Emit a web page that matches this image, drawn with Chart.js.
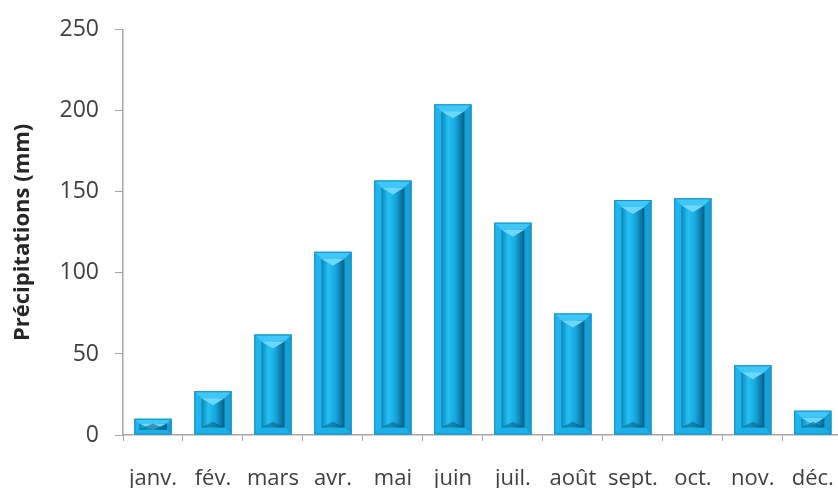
<!DOCTYPE html>
<html>
<head>
<meta charset="utf-8">
<script src="https://cdn.jsdelivr.net/npm/chart.js@4"></script>
<style>
  html, body { margin: 0; padding: 0; background: #fff; overflow: hidden; }
  #wrap { width: 859px; height: 488px; }
</style>
</head>
<body>
<div id="wrap"><canvas id="bar" width="859" height="488"></canvas></div>
<script>
const months = ['janv.', 'fév.', 'mars', 'avr.', 'mai', 'juin', 'juil.', 'août', 'sept.', 'oct.', 'nov.', 'déc.']
const precipitations = [10, 27, 62, 113, 157, 204, 131, 75, 145, 146, 43, 15]
const yTicks = [0, 50, 100, 150, 200, 250]

// bevel look drawn on top of each bar, from the bar elements themselves
const bevel = {
  id: 'bevel',
  afterDatasetsDraw(chart) {
    const ctx = chart.ctx
    chart.getDatasetMeta(0).data.forEach((bar) => {
      const { x, y, base, width } = bar.getProps(['x', 'y', 'base', 'width'], true)
      const l = x - width / 2, r = x + width / 2, t = y, b = base
      const h = b - t
      const d = Math.min(7, width * 0.19, h * 0.3)
      const il = l + d, ir = r - d, it = t + d, ib = b - d
      ctx.save()
      // top
      ctx.fillStyle = '#3fc8f7'
      ctx.beginPath(); ctx.moveTo(l, t); ctx.lineTo(r, t); ctx.lineTo(ir, it); ctx.lineTo(il, it); ctx.fill()
      // left
      ctx.fillStyle = '#1fb4ec'
      ctx.beginPath(); ctx.moveTo(l, t); ctx.lineTo(il, it); ctx.lineTo(il, ib); ctx.lineTo(l, b); ctx.fill()
      // right
      ctx.fillStyle = '#15a0d6'
      ctx.beginPath(); ctx.moveTo(r, t); ctx.lineTo(ir, it); ctx.lineTo(ir, ib); ctx.lineTo(r, b); ctx.fill()
      // bottom
      ctx.fillStyle = '#1cb0e8'
      ctx.beginPath(); ctx.moveTo(l, b); ctx.lineTo(il, ib); ctx.lineTo(ir, ib); ctx.lineTo(r, b); ctx.fill()
      // inner face
      if (ib > it) {
        const g = ctx.createLinearGradient(il, 0, ir, 0)
        g.addColorStop(0, '#0b86b8')
        g.addColorStop(0.3, '#25c0f3')
        g.addColorStop(0.6, '#17a8e0')
        g.addColorStop(1, '#065e84')
        ctx.fillStyle = g
        ctx.fillRect(il, it, ir - il, ib - it)
        // small light notch at the top of the inner face
        const tw = (ir - il) / 2
        ctx.fillStyle = '#6bd8fa'
        ctx.beginPath(); ctx.moveTo(il, it); ctx.lineTo(ir, it); ctx.lineTo(x, it + Math.min(tw * 0.6, ib - it)); ctx.fill()
        // darker notch at the bottom
        ctx.fillStyle = 'rgba(6, 80, 115, 0.5)'
        ctx.beginPath(); ctx.moveTo(il, ib); ctx.lineTo(ir, ib); ctx.lineTo(x, ib - Math.min(tw * 0.5, ib - it)); ctx.fill()
      }
      ctx.strokeStyle = '#1490c4'
      ctx.lineWidth = 1
      ctx.strokeRect(l + 0.5, t + 0.5, width - 1, h - 1)
      ctx.restore()
    })
  }
}

const axisColor = '#a6a6a6'
const barCtx = document.getElementById('bar')
const chart = new Chart(barCtx, {
  type: 'bar',
  data: {
    labels: months,
    datasets: [
      {
        label: 'Précipitations (mm)',
        data: precipitations,
        backgroundColor: '#1db6ee',
        borderWidth: 0,
        barPercentage: 0.62,
        categoryPercentage: 1,
      },
    ],
  },
  options: {
    responsive: false,
    animation: false,
    layout: { padding: { top: 22, right: 3, bottom: 0, left: 0 } },
    plugins: {
      legend: { display: false },
      tooltip: { enabled: false },
    },
    scales: {
      x: {
        grid: { display: true, drawOnChartArea: false, drawTicks: true, tickLength: 6, color: axisColor, offset: true },
        border: { color: axisColor, width: 1.5 },
        ticks: { color: '#404040', font: { family: 'Open Sans', size: 22 }, padding: 25, maxRotation: 0 },
        afterFit: (scale) => { scale.height = 53 },
      },
      y: {
        min: 0,
        max: 250,
        afterBuildTicks: (scale) => { scale.ticks = yTicks.map((v) => ({ value: v })) },
        grid: { display: true, drawOnChartArea: false, drawTicks: true, tickLength: 8, color: axisColor },
        border: { color: axisColor, width: 1.5 },
        ticks: { color: '#404040', font: { family: 'Open Sans', size: 23 }, padding: 16 },
        title: {
          display: true,
          text: 'Précipitations (mm)',
          color: '#262626',
          font: { family: 'Open Sans', size: 22, weight: 'bold' },
          padding: { top: 10, bottom: 0 },
        },
        afterFit: (scale) => { scale.width = 123 },
      },
    },
  },
  plugins: [bevel],
})
</script>
</body>
</html>
